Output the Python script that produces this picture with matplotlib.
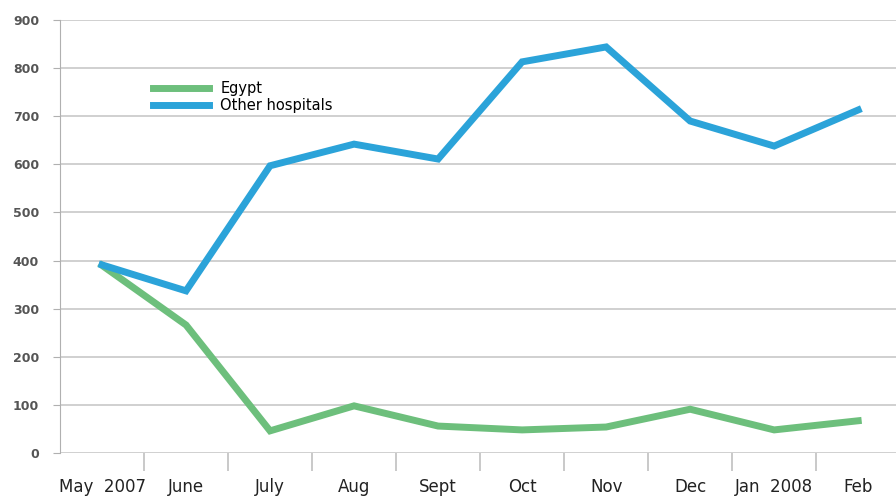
import matplotlib.pyplot as plt
import numpy as np

months = ["May  2007", "June", "July", "Aug", "Sept", "Oct", "Nov", "Dec", "Jan  2008", "Feb"]
egypt = [390, 266, 46, 98, 56, 48, 54, 91, 48, 67]
other = [391, 337, 597, 642, 611, 813, 844, 690, 638, 713]

fig = plt.figure(figsize=(8.96, 5.0), dpi=100)
ax = fig.add_axes([60 / 896, 47 / 500, 836 / 896, 433 / 500])

x = np.arange(len(months))
ax.plot(x, egypt, color="#6dbf7c", lw=5, label="Egypt", solid_joinstyle="miter")
ax.plot(x, other, color="#2ba3d9", lw=5, label="Other hospitals", solid_joinstyle="miter")

ax.set_xlim(-0.5, 9.45)
ax.set_ylim(0, 900)
ax.set_yticks(range(0, 1000, 100))
ax.yaxis.grid(True, color="#c8c8c8", lw=1.2)
ax.set_axisbelow(True)
for s in ["top", "right", "bottom"]:
    ax.spines[s].set_visible(False)
ax.spines["left"].set_color("#b0b0b0")
ax.tick_params(axis="y", length=5, color="#b0b0b0", labelsize=9, labelcolor="#555555", pad=10)
for t in ax.get_yticklabels():
    t.set_fontweight("bold")

# category boundary ticks below the axis, labels centered
ax.set_xticks(np.arange(0.5, 9, 1))
ax.set_xticklabels([])
ax.tick_params(axis="x", length=13, color="#c0c0c0", width=1.2)
ax.set_xticks(x, minor=True)
ax.set_xticklabels(months, minor=True, fontsize=12, color="#222222")
ax.tick_params(axis="x", which="minor", length=0, pad=18)

ax.legend(loc="upper left", bbox_to_anchor=(0.103, 0.875), frameon=False, fontsize=10.5,
          handlelength=3.8, handletextpad=0.8, labelspacing=0.1, borderpad=0)

fig.savefig("out.png", dpi=100)
